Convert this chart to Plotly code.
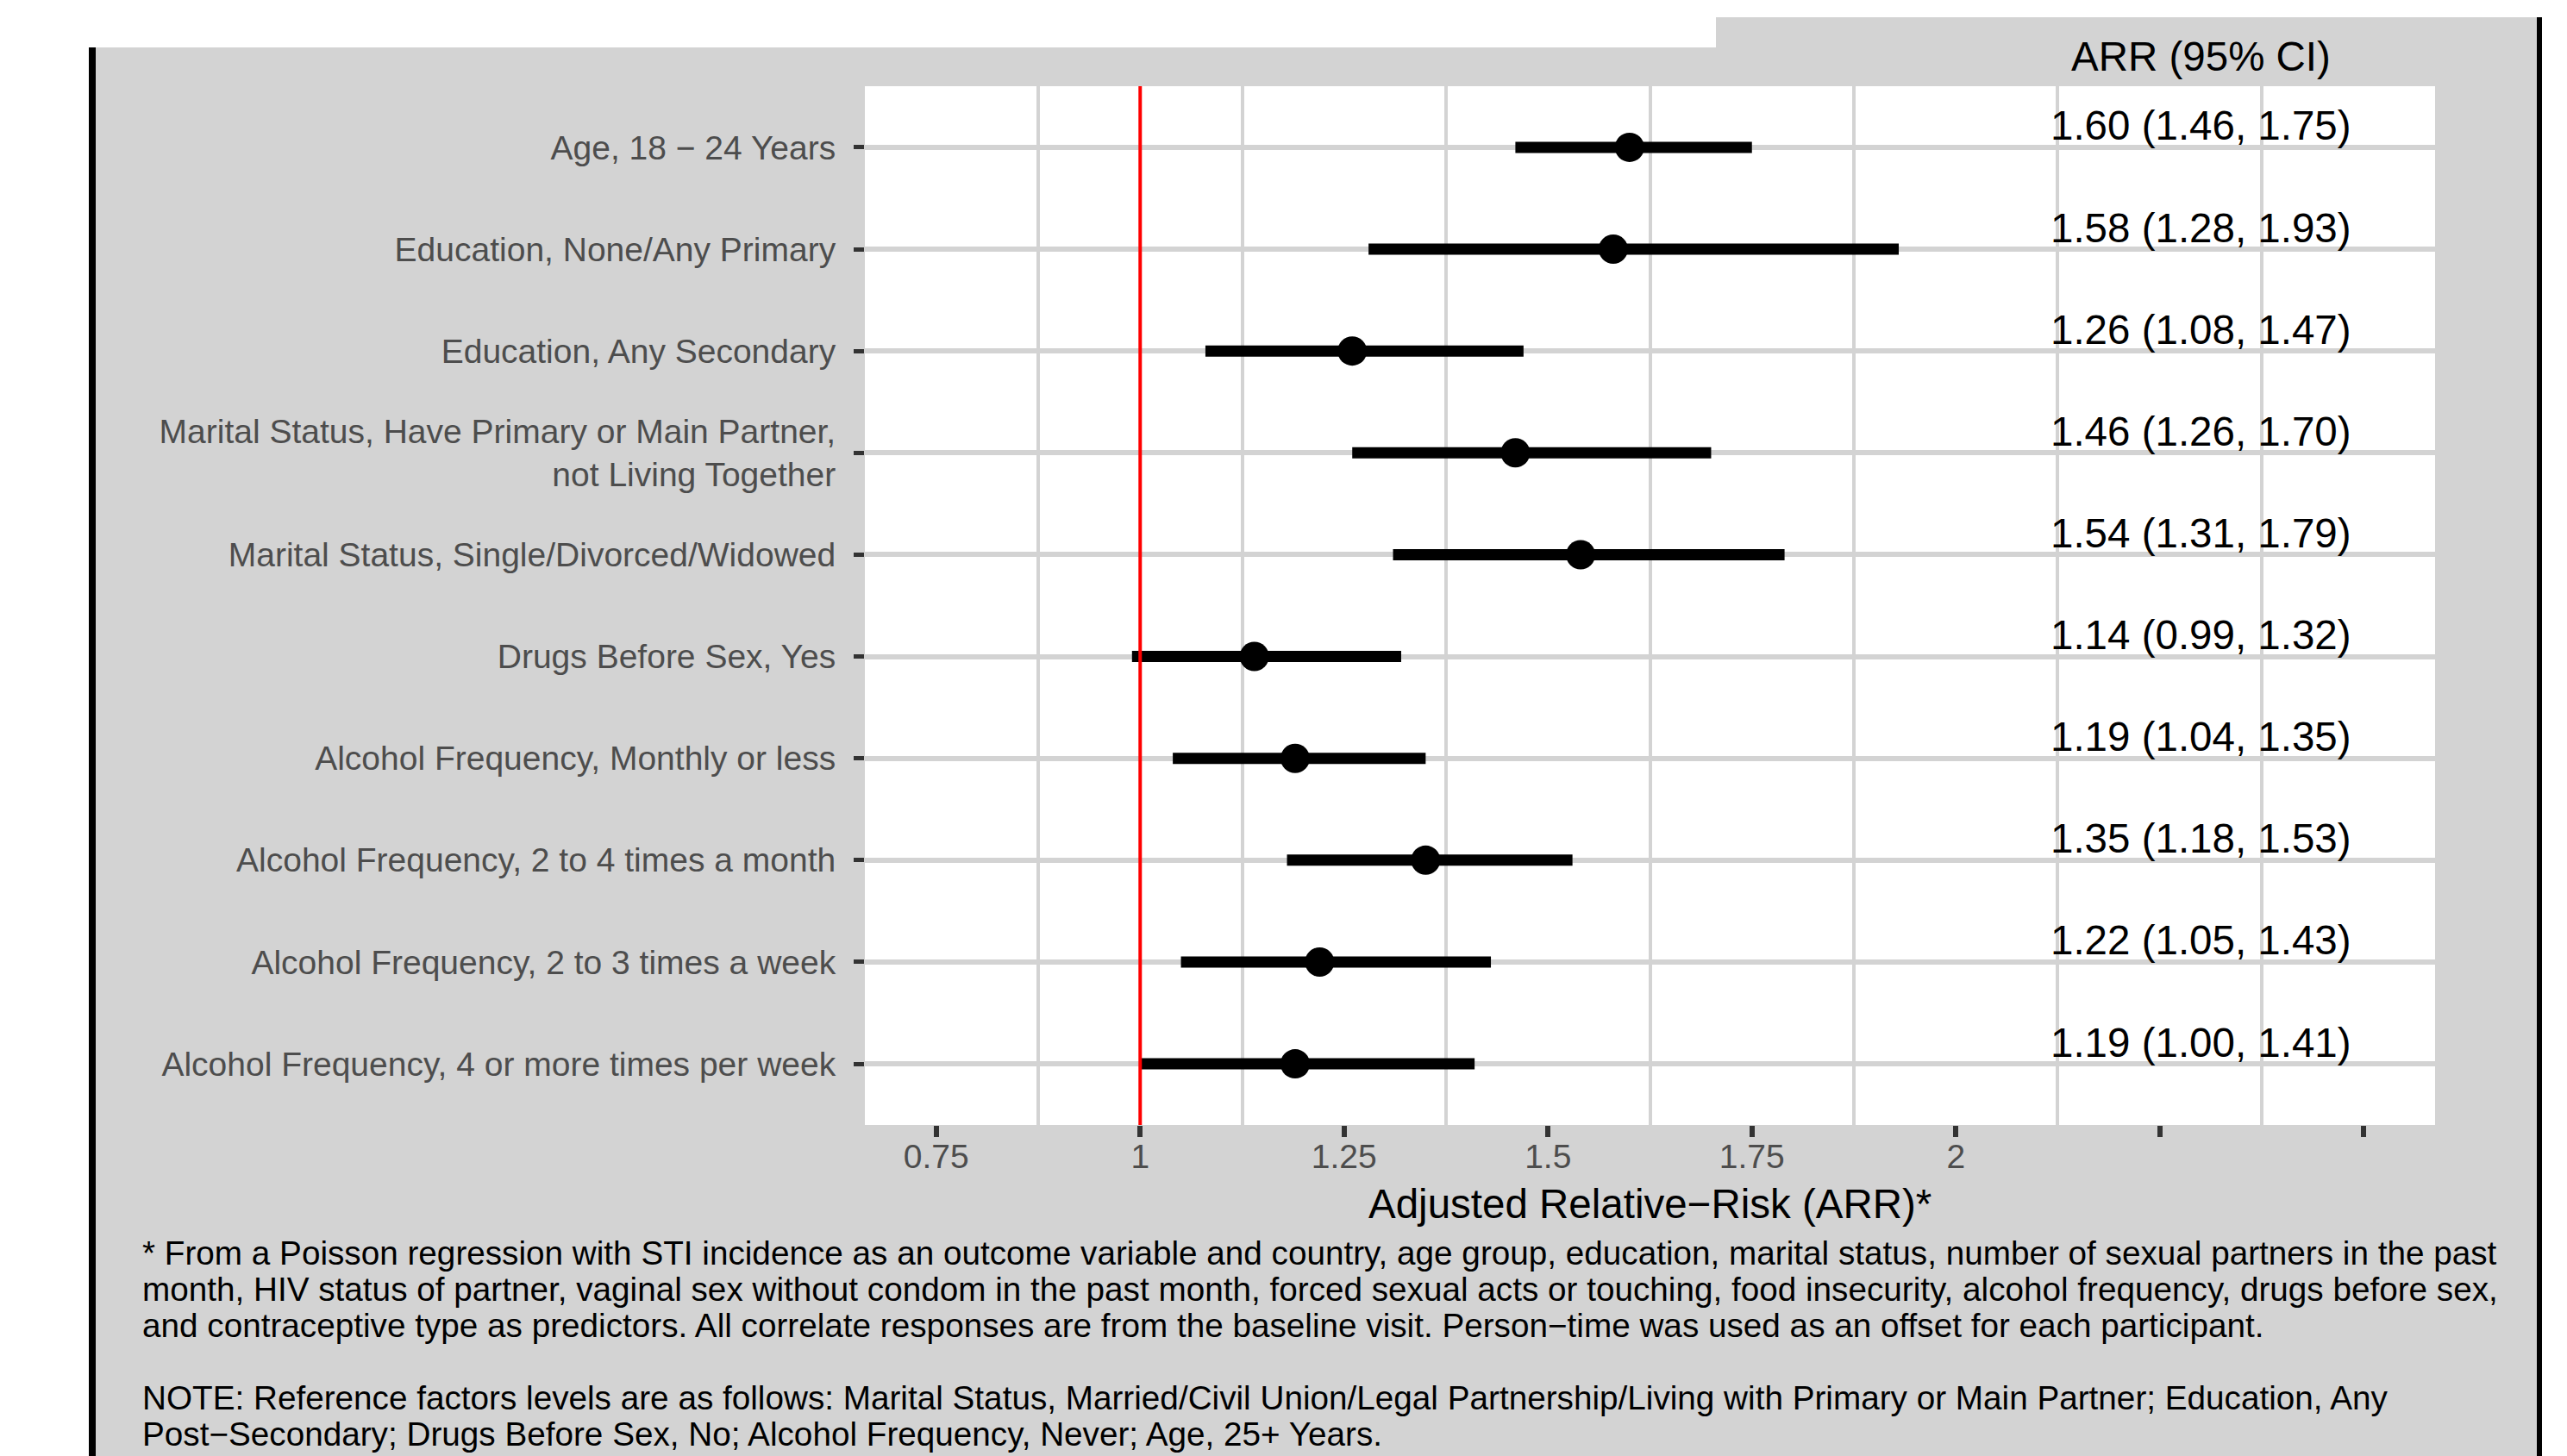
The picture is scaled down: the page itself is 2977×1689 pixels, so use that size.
import plotly.graph_objects as go

# ---------------- data ----------------
labels = [
    "Age, 18 \u2212 24 Years",
    "Education, None/Any Primary",
    "Education, Any Secondary",
    "Marital Status, Have Primary or Main Partner,<br>not Living Together",
    "Marital Status, Single/Divorced/Widowed",
    "Drugs Before Sex, Yes",
    "Alcohol Frequency, Monthly or less",
    "Alcohol Frequency, 2 to 4 times a month",
    "Alcohol Frequency, 2 to 3 times a week",
    "Alcohol Frequency, 4 or more times per week",
]
arr_est = [1.60, 1.58, 1.26, 1.46, 1.54, 1.14, 1.19, 1.35, 1.22, 1.19]
arr_lo = [1.46, 1.28, 1.08, 1.26, 1.31, 0.99, 1.04, 1.18, 1.05, 1.00]
arr_hi = [1.75, 1.93, 1.47, 1.70, 1.79, 1.32, 1.35, 1.53, 1.43, 1.41]

x_tickvals = [0.75, 1.0, 1.25, 1.5, 1.75, 2.0, 2.25, 2.5]
x_ticktext = ["0.75", "1", "1.25", "1.5", "1.75", "2", "", ""]
x_range = [0.6625, 2.5875]
ref_value = 1.0
label_x = 2.3

header_text = "ARR (95% CI)"
x_title = "Adjusted Relative\u2212Risk (ARR)*"
footnote_lines = [
    "* From a Poisson regression with STI incidence as an outcome variable and country, age group, education, marital status, number of sexual partners in the past",
    "month, HIV status of partner, vaginal sex without condom in the past month, forced sexual acts or touching, food insecurity, alcohol frequency, drugs before sex,",
    "and contraceptive type as predictors. All correlate responses are from the baseline visit. Person\u2212time was used as an offset for each participant.",
    "",
    "NOTE: Reference factors levels are as follows: Marital Status, Married/Civil Union/Legal Partnership/Living with Primary or Main Partner; Education, Any",
    "Post\u2212Secondary; Drugs Before Sex, No; Alcohol Frequency, Never; Age, 25+ Years.",
]

# ---------------- geometry (pixels) ----------------
W, H = 2977, 1689
ML, MR, MT, MB = 1003, 153, 100, 384
PW, PH = W - ML - MR, H - MT - MB


def px_x(p):
    return (p - ML) / PW


def px_y(p):
    return (H - MB - p) / PH


FONT = "Liberation Sans, Arial, Helvetica, sans-serif"
GRAY_BG = "#D3D3D3"
positions = list(range(1, len(labels) + 1))

fig = go.Figure()
fig.add_trace(
    go.Scatter(
        x=arr_est,
        y=positions,
        mode="markers",
        marker=dict(size=34, color="black", line=dict(width=0)),
        error_x=dict(
            type="data",
            symmetric=False,
            array=[h - e for h, e in zip(arr_hi, arr_est)],
            arrayminus=[e - l for e, l in zip(arr_est, arr_lo)],
            thickness=13,
            width=0,
            color="black",
        ),
        showlegend=False,
        hoverinfo="skip",
    )
)

annotations = []
for p, e, l, h in zip(positions, arr_est, arr_lo, arr_hi):
    annotations.append(
        dict(
            x=label_x, y=p, xref="x", yref="y",
            text=f"{e:.2f} ({l:.2f}, {h:.2f})",
            showarrow=False, xanchor="center", yanchor="middle", yshift=25,
            font=dict(family=FONT, size=47.5, color="black"),
        )
    )
annotations.append(
    dict(
        x=label_x, y=1, xref="x", yref="paper",
        text=header_text, showarrow=False, xanchor="center", yanchor="middle",
        yshift=35, font=dict(family=FONT, size=47.5, color="black"),
    )
)
annotations.append(
    dict(
        x=0.5, y=0, xref="paper", yref="paper",
        text=x_title, showarrow=False, xanchor="center", yanchor="middle",
        yshift=-91, font=dict(family=FONT, size=47.5, color="black"),
    )
)
line_y0 = 1453
line_step = 42
for i, line in enumerate(footnote_lines):
    if not line:
        continue
    annotations.append(
        dict(
            x=px_x(163), y=0, xref="paper", yref="paper",
            text=line, showarrow=False, xanchor="left", yanchor="middle",
            yshift=-(line_y0 + i * line_step - (H - MB)),
            font=dict(family=FONT, size=38.7, color="black"),
        )
    )

shapes = [
    # white outer areas
    dict(type="rect", xref="paper", yref="paper", x0=px_x(-5), x1=px_x(103),
         y0=px_y(H + 5), y1=px_y(-5), fillcolor="white", line=dict(width=0), layer="below"),
    dict(type="rect", xref="paper", yref="paper", x0=px_x(2948), x1=px_x(W + 5),
         y0=px_y(H + 5), y1=px_y(-5), fillcolor="white", line=dict(width=0), layer="below"),
    dict(type="rect", xref="paper", yref="paper", x0=px_x(103), x1=px_x(1990),
         y0=px_y(55), y1=px_y(-5), fillcolor="white", line=dict(width=0), layer="below"),
    dict(type="rect", xref="paper", yref="paper", x0=px_x(1990), x1=px_x(2948),
         y0=px_y(20), y1=px_y(-5), fillcolor="white", line=dict(width=0), layer="below"),
    # black border lines
    dict(type="rect", xref="paper", yref="paper", x0=px_x(103), x1=px_x(111),
         y0=px_y(H + 5), y1=px_y(55), fillcolor="black", line=dict(width=0), layer="below"),
    dict(type="rect", xref="paper", yref="paper", x0=px_x(2942), x1=px_x(2948),
         y0=px_y(H + 5), y1=px_y(20), fillcolor="black", line=dict(width=0), layer="below"),
    # reference line
    dict(type="line", xref="x", yref="paper", x0=ref_value, x1=ref_value, y0=0, y1=1,
         line=dict(color="red", width=4), layer="above"),
]

fig.update_layout(
    width=W,
    height=H,
    margin=dict(l=ML, r=MR, t=MT, b=MB, pad=0),
    paper_bgcolor=GRAY_BG,
    plot_bgcolor="white",
    font=dict(family=FONT),
    annotations=annotations,
    shapes=shapes,
    showlegend=False,
    xaxis=dict(
        range=x_range,
        tickmode="array",
        tickvals=x_tickvals,
        ticktext=x_ticktext,
        showgrid=False,
        zeroline=False,
        showline=False,
        ticks="outside",
        ticklen=13,
        tickwidth=6,
        tickcolor="#333333",
        ticklabelstandoff=-11,
        tickfont=dict(family=FONT, size=39, color="#4D4D4D"),
        minor=dict(
            tickmode="linear", tick0=0.875, dtick=0.25,
            showgrid=True, gridcolor=GRAY_BG, gridwidth=4, ticks="",
        ),
    ),
    yaxis=dict(
        range=[len(labels) + 0.6, 0.4],
        tickmode="array",
        tickvals=positions,
        ticktext=labels,
        showgrid=True,
        gridcolor=GRAY_BG,
        gridwidth=6,
        zeroline=False,
        showline=False,
        ticks="outside",
        ticklen=12,
        tickwidth=5,
        tickcolor="#333333",
        ticklabelstandoff=13,
        tickfont=dict(family=FONT, size=39, color="#4D4D4D"),
    ),
)

fig.write_html(
    "out.html",
    config={"displayModeBar": False},
    post_script="document.body.style.margin='0';",
)
